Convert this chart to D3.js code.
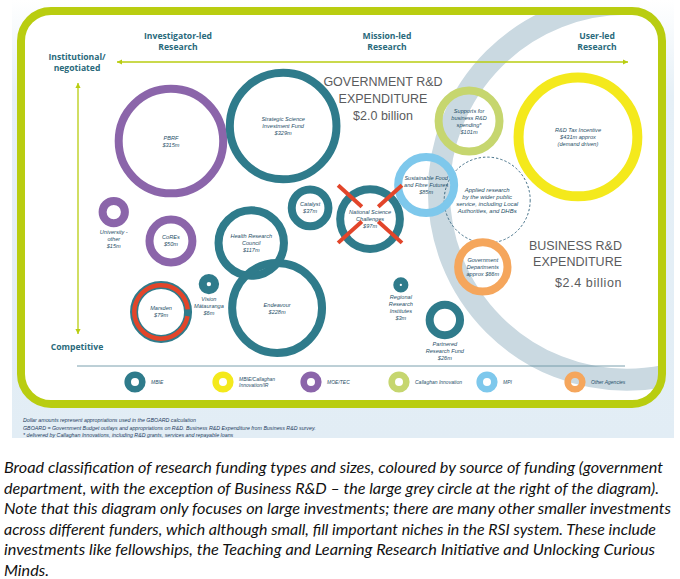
<!DOCTYPE html>
<html>
<head>
<meta charset="utf-8">
<script src="https://cdn.jsdelivr.net/npm/d3@7"></script>
<style>
  html, body { margin: 0; padding: 0; background: #fff; }
  svg { display: block; }
</style>
</head>
<body>
<svg id="chart" width="680" height="579"></svg>
<script>
// funding streams (names split over lines as printed)
const streams = [
  "PBRF", "Strategic Science\nInvestment Fund", "University -\nother", "CoREs", "Marsden",
  "Vision\nMātauranga", "Health Research\nCouncil", "Endeavour", "Catalyst",
  "National Science\nChallenges", "Sustainable Food\nand Fibre Futures", "Government\nDepartments",
  "Regional\nResearch\nInstitutes", "Partnered\nResearch Fund", "Supports for\nbusiness R&D\nspending*",
  "R&D Tax Incentive"
];
// appropriations, $m
const amounts = [315, 329, 15, 50, 79, 6, 117, 228, 37, 97, 85, 66, 3, 26, 101, 431];
// how the amount is written: "" plain, "pre" = "approx $xm", "post" = "$xm approx (demand driven)"
const amountNotes = ["", "", "", "", "", "", "", "", "", "", "", "pre", "", "", "", "post"];
const funders = [
  "MOE/TEC", "MBIE", "MOE/TEC", "MOE/TEC", "MBIE", "MBIE", "MBIE", "MBIE", "MBIE",
  "MBIE", "MPI", "Other Agencies", "MBIE", "MBIE", "Callaghan Innovation",
  "MBIE/Callaghan Innovation/IR"
];
// 0 = investigator-led ... 100 = user-led
const orientation = [12.9, 33.3, 2.5, 12.9, 11.1, 19.8, 27.5, 32.2, 38.2, 49.1, 59.3, 69.6, 54.7, 62.7, 67.1, 86.9];
// 0 = institutional/negotiated ... 100 = competitive
const competition = [23.5, 17.7, 50.8, 61.9, 89.2, 78.5, 62.7, 87.7, 49.2, 53.5, 40.4, 71.9, 78.8, 92.3, 15.8, 21.9];
// streams marked as being cut
const crossedOut = ["National Science\nChallenges"];
const ringedOut = ["Marsden"];

const funderNames = ["MBIE", "MBIE/Callaghan Innovation/IR", "MOE/TEC", "Callaghan Innovation", "MPI", "Other Agencies"];
const funderLabels = ["MBIE", "MBIE/Callaghan\nInnovation/IR", "MOE/TEC", "Callaghan Innovation", "MPI", "Other Agencies"];
const funderColors = ["#2f7b8b", "#f4e91c", "#8b65aa", "#c6d66f", "#7ec8ec", "#f5a65c"];

const sectorTitles = ["GOVERNMENT R&D\nEXPENDITURE", "BUSINESS R&D\nEXPENDITURE"];
const sectorTotals = [2.0, 2.4]; // $ billion

const appliedNote = "Applied research\nby the wider public\nservice, including Local\nAuthorities, and DHBs";

const footnotes = [
  "Dollar amounts represent appropriations used in the GBOARD calculation",
  "GBOARD = Government Budget outlays and appropriations on R&D. Business R&D Expenditure from Business R&D survey.",
  "* delivered by Callaghan Innovations, including R&D grants, services and repayable loans"
];

const caption = [
  "Broad classification of research funding types and sizes, coloured by source of funding (government",
  "department, with the exception of Business R&D \u2013 the large grey circle at the right of the diagram).",
  "Note that this diagram only focuses on large investments; there are many other smaller investments",
  "across different funders, which although small, fill important niches in the RSI system. These include",
  "investments like fellowships, the Teaching and Learning Research Initiative and Unlocking Curious",
  "Minds."
];
const captionWidths = [659, 655, 667, 652, 651, 45];

const svg = d3.select("#chart");
const teal = "#2a6a7b";
const labelInk = "#1f4f68";
const green = "#b9cd10";

const x = d3.scaleLinear().domain([0, 100]).range([100, 650]);
const y = d3.scaleLinear().domain([0, 100]).range([80, 340]);
const r = d3.scalePow().exponent(0.431).domain([0, 431]).range([0, 64.4]);
const color = d3.scaleOrdinal().domain(funderNames).range(funderColors);

const data = streams.map((name, i) => ({
  name,
  amount: amounts[i],
  note: amountNotes[i],
  funder: funders[i],
  cx: x(orientation[i]),
  cy: y(competition[i]),
  r: r(amounts[i])
}));

drawBackground();
drawAxes();
drawSectors();
drawStreams();
drawLegend();
drawNotes();

function drawBackground() {
  const defs = svg.append("defs");
  const grad = defs.append("linearGradient").attr("id", "bg").attr("x1", 0).attr("y1", 0).attr("x2", 0).attr("y2", 1);
  grad.append("stop").attr("offset", "0").attr("stop-color", "#ffffff");
  grad.append("stop").attr("offset", "0.22").attr("stop-color", "#e6f0f7");
  grad.append("stop").attr("offset", "1").attr("stop-color", "#e2edf5");

  svg.append("rect").attr("x", 12).attr("y", 0).attr("width", 662).attr("height", 438).attr("fill", "url(#bg)");

  defs.append("clipPath").attr("id", "inside")
    .append("rect").attr("x", 21).attr("y", 11).attr("width", 641).attr("height", 393).attr("rx", 30);

  svg.append("rect").attr("x", 21).attr("y", 11).attr("width", 641).attr("height", 393).attr("rx", 30)
    .attr("fill", "#fff");

  // business R&D: the big grey circle
  svg.append("circle")
    .attr("clip-path", "url(#inside)")
    .attr("cx", x(95.8)).attr("cy", y(43))
    .attr("r", 188)
    .attr("fill", "none").attr("stroke", "#cad9e1").attr("stroke-width", 22);

  svg.append("rect").attr("x", 21).attr("y", 11).attr("width", 641).attr("height", 393).attr("rx", 30)
    .attr("fill", "none").attr("stroke", green).attr("stroke-width", 8);
}

function arrow(g, x1, y1, x2, y2) {
  g.append("line").attr("x1", x1).attr("y1", y1).attr("x2", x2).attr("y2", y2)
    .attr("stroke", green).attr("stroke-width", 1.3);
  const head = (px, py, ang) => {
    g.append("path")
      .attr("d", "M0,0L-5,-2.6L-5,2.6Z")
      .attr("fill", green)
      .attr("transform", `translate(${px},${py}) rotate(${ang})`);
  };
  const a = (Math.atan2(y2 - y1, x2 - x1) * 180) / Math.PI;
  head(x2, y2, a);
  head(x1, y1, a + 180);
}

function multiline(g, text, px, py, lh) {
  const t = g.append("text").attr("x", px).attr("y", py);
  text.split("\n").forEach((s, i) => {
    t.append("tspan").attr("x", px).attr("dy", i === 0 ? 0 : lh).text(s);
  });
  return t;
}

function drawAxes() {
  const g = svg.append("g");
  arrow(g, 117, 62, 628, 62);
  arrow(g, 78, 83, 78, 334);

  const heads = g.append("g")
    .attr("font-family", "'Open Sans', sans-serif")
    .attr("font-weight", 700)
    .attr("font-size", 8.6)
    .attr("fill", teal)
    .attr("text-anchor", "middle");
  multiline(heads, "Investigator-led\nResearch", 178, 39, 11);
  multiline(heads, "Mission-led\nResearch", 387, 39, 11);
  multiline(heads, "User-led\nResearch", 597, 39, 11);
  multiline(heads, "Institutional/\nnegotiated", 77, 60, 11);
  heads.append("text").attr("x", 77).attr("y", 350).text("Competitive");
}

function drawSectors() {
  const g = svg.append("g")
    .attr("font-family", "'Liberation Sans', Arial, sans-serif")
    .attr("fill", "#5a5b5d")
    .attr("font-size", 12.5);
  const gov = multiline(g, sectorTitles[0], 383, 86, 17).attr("text-anchor", "middle");
  g.append("text").attr("x", 383).attr("y", 120).attr("text-anchor", "middle")
    .text(`$${sectorTotals[0].toFixed(1)} billion`);
  multiline(g, sectorTitles[1], 622, 250, 16).attr("text-anchor", "end");
  g.append("text").attr("x", 622).attr("y", 287).attr("text-anchor", "end")
    .attr("letter-spacing", 0.6)
    .text(`$${sectorTotals[1].toFixed(1)} billion`);
}

function amountText(d) {
  if (d.note === "pre") return `approx $${d.amount}m`;
  if (d.note === "post") return `$${d.amount}m approx\n(demand driven)`;
  return `$${d.amount}m`;
}

function drawStreams() {
  const g = svg.append("g");

  // dashed circle for the wider public service
  const sff = data[10];
  const gd = data[11];
  g.append("circle")
    .attr("cx", x(70.4)).attr("cy", y(46.2)).attr("r", 43)
    .attr("fill", "none").attr("stroke", "#2b5d78").attr("stroke-width", 0.9)
    .attr("stroke-dasharray", "2.4,2");

  const sw = (d) => (d.amount > 400 ? 10 : Math.min(8, d.r * 0.85));

  g.selectAll("circle.ring")
    .data(data)
    .join("circle")
    .attr("class", "ring")
    .attr("cx", (d) => d.cx)
    .attr("cy", (d) => d.cy)
    .attr("r", (d) => d.r - sw(d) / 2)
    .attr("fill", "none")
    .attr("stroke", (d) => color(d.funder))
    .attr("stroke-width", sw);

  // Marsden: red ring on top
  data.filter((d) => ringedOut.includes(d.name)).forEach((d) => {
    const arc = d3.arc().innerRadius(d.r - 6.5).outerRadius(d.r - 2)
      .startAngle(Math.PI * 0.55).endAngle(Math.PI * 2.47);
    g.append("path").attr("d", arc()).attr("transform", `translate(${d.cx},${d.cy})`).attr("fill", "#e2452a");
  });

  const labels = g.append("g")
    .attr("font-family", "'Liberation Sans', Arial, sans-serif")
    .attr("font-style", "italic")
    .attr("font-size", 5.6)
    .attr("fill", labelInk)
    .attr("text-anchor", "middle");

  data.forEach((d) => {
    const text = d.name + "\n" + amountText(d);
    const n = text.split("\n").length;
    const lh = 7;
    if (d.r < 20) {
      multiline(labels, text, d.cx, d.cy + d.r + 7, lh);
    } else {
      multiline(labels, text, d.cx, d.cy - ((n - 1) * lh) / 2 + 2, lh);
    }
  });

  multiline(labels, appliedNote, x(70.4), y(46.2) - 8, 6.9).attr("font-size", 6);

  // National Science Challenges: red cross
  data.filter((d) => crossedOut.includes(d.name)).forEach((d) => {
    const cg = g.append("g").attr("transform", `translate(${d.cx},${d.cy - 5})`)
      .attr("stroke", "#e2452a").attr("stroke-width", 4).attr("stroke-linecap", "butt");
    [-138, -42, 42, 138].forEach((a) => {
      const t = (a * Math.PI) / 180;
      cg.append("line")
        .attr("x1", Math.cos(t) * 11).attr("y1", Math.sin(t) * 11)
        .attr("x2", Math.cos(t) * 43).attr("y2", Math.sin(t) * 43);
    });
  });
}

function drawLegend() {
  const g = svg.append("g");
  g.append("line").attr("x1", 77).attr("x2", 625).attr("y1", 366).attr("y2", 366)
    .attr("stroke", "#6b95a5").attr("stroke-width", 0.9);

  const lx = d3.scalePoint().domain(funderNames).range([135, 575]);

  const items = g.selectAll("g.item")
    .data(funderNames)
    .join("g")
    .attr("class", "item")
    .attr("transform", (d) => `translate(${lx(d)},382)`);

  items.append("circle").attr("r", 7.3).attr("fill", "none")
    .attr("stroke", (d) => color(d)).attr("stroke-width", 6.6);

  items.each(function (d, i) {
    const t = multiline(d3.select(this), funderLabels[i], 16, funderLabels[i].includes("\n") ? -1 : 1.5, 6)
      .attr("font-family", "'Liberation Sans', Arial, sans-serif")
      .attr("font-style", "italic")
      .attr("font-size", 5)
      .attr("fill", labelInk);
  });
}

function drawNotes() {
  svg.append("g")
    .attr("font-family", "'Liberation Sans', Arial, sans-serif")
    .attr("font-style", "italic")
    .attr("font-size", 5.3)
    .attr("fill", "#1e3c5e")
    .selectAll("text")
    .data(footnotes)
    .join("text")
    .attr("x", 23)
    .attr("y", (d, i) => 422 + i * 7.5)
    .text((d) => d);

  svg.append("g")
    .attr("font-family", "Lato, 'Open Sans', sans-serif")
    .attr("font-style", "italic")
    .attr("font-size", 15)
    .attr("fill", "#111")
    .selectAll("text")
    .data(caption)
    .join("text")
    .attr("x", 4)
    .attr("y", (d, i) => 473 + i * 20.6)
    .attr("textLength", (d, i) => captionWidths[i])
    .attr("lengthAdjust", "spacingAndGlyphs")
    .text((d) => d);
}
</script>
</body>
</html>
